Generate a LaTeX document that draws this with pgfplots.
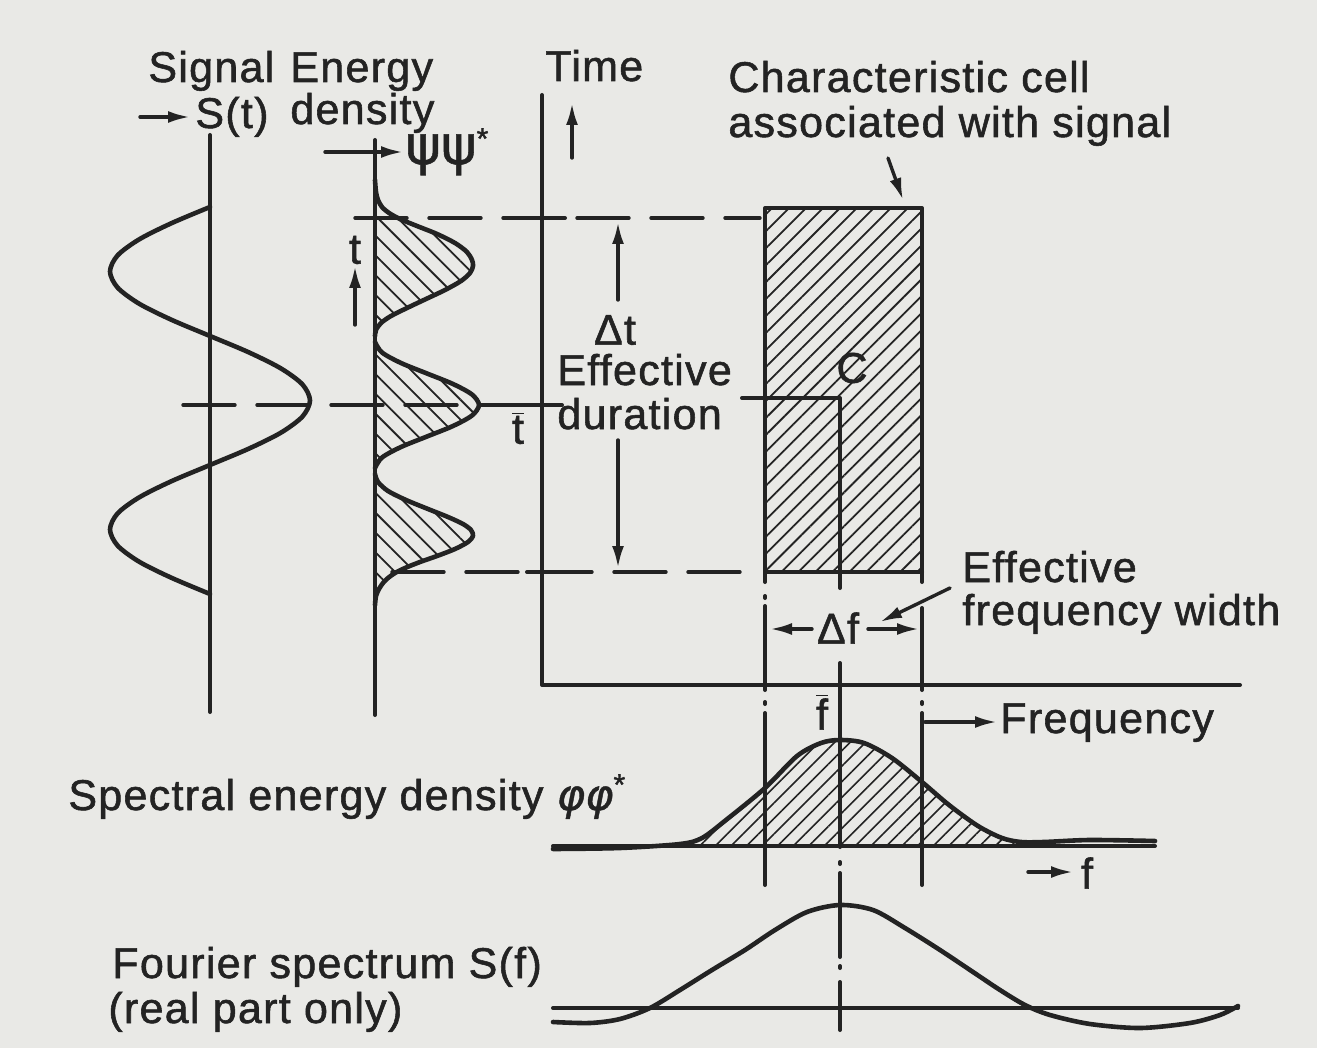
\documentclass[border=0pt]{standalone}
\usepackage{pgfplots}
\pgfplotsset{compat=1.18}
\usetikzlibrary{arrows.meta,patterns.meta}
\usepackage{fontspec}
\setmainfont{Liberation Sans}[FakeBold=1.3,LetterSpace=3]
\newfontfamily\dejavu{DejaVu Sans}[FakeBold=1]
\newfontfamily\dejavuo{DejaVu Sans Oblique}[FakeBold=1]
\definecolor{paper}{RGB}{233,233,230}
\definecolor{ink}{RGB}{35,35,35}
\newcommand\tf{\fontsize{21.5}{25}\selectfont}
\tikzset{
  L/.style={line width=2pt},
  C/.style={line width=2.3pt},
  D/.style={line width=1.7pt, dash pattern=on 26pt off 11pt},
  A/.style={line width=1.7pt, -{Latex[length=11pt,width=6pt]}},
  T/.style={anchor=base west, font=\tf, text=ink, inner sep=0pt},
  TC/.style={anchor=center, font=\tf, text=ink, inner sep=0pt},
}
\begin{document}
\begin{tikzpicture}
\begin{axis}[width=658.5pt,height=524pt,scale only axis,
  xmin=0,xmax=1317,ymin=0,ymax=1048,y dir=reverse,
  axis lines=none,clip=false,no markers,
  axis background/.style={fill=paper},
  every axis plot/.append style={ink, line cap=round, line join=round}]

% ---------- signal S(t) ----------
\addplot[L] coordinates {(210,135) (210,712)};
\addplot[C,smooth] coordinates {
(210,207.0) (171.7,223.1) (139.3,239.3) (117.6,255.4) (110,271.5) (117.6,287.6)
(139.3,303.8) (171.7,319.9) (210,336.0) (248.3,352.1) (280.7,368.3) (302.4,384.4)
(310,400.5) (302.4,416.6) (280.7,432.8) (248.3,448.9) (210,465.0) (171.7,481.1)
(139.3,497.3) (117.6,513.4) (110,529.5) (117.6,545.6) (139.3,561.8) (171.7,577.9) (210,594.0)};

% ---------- energy density ----------
\addplot[draw=none,smooth,pattern={Lines[angle=-45,distance=7pt,line width=0.9pt]},pattern color=ink] coordinates {
(375,180) (376,192) (378,200) (382,207) (389,213) (400,219) (417,226) (437,234) (455,243)
(467,252) (472,260) (473,266) (470,273) (461,281) (445,290) (426,299) (407,308) (391,316)
(381,323) (376,330) (375,336) (375,342) (382,352.5) (401,363) (427,373.5) (453,384)
(472,394.5) (479,405) (472,415.5) (453,426) (427,436.5) (401,447) (382,457.5) (375,468)
(375,474) (378,482) (388,491) (406,500) (428,509) (448,517) (463,524) (471,530) (473,536)
(468,542) (455,549) (437,556) (420,562) (405,568) (395,573) (388,578) (383,583) (379,589)
(376,596) (375,605)};
\addplot[L] coordinates {(375,140) (375,715)};
\addplot[C,smooth] coordinates {
(375,180) (376,192) (378,200) (382,207) (389,213) (400,219) (417,226) (437,234) (455,243)
(467,252) (472,260) (473,266) (470,273) (461,281) (445,290) (426,299) (407,308) (391,316)
(381,323) (376,330) (375,336)};
\addplot[C,smooth] coordinates {
(375,342) (382,352.5) (401,363) (427,373.5) (453,384)
(472,394.5) (479,405) (472,415.5) (453,426) (427,436.5) (401,447) (382,457.5) (375,468)};
\addplot[C,smooth] coordinates {
(375,474) (378,482) (388,491) (406,500) (428,509) (448,517) (463,524) (471,530) (473,536)
(468,542) (455,549) (437,556) (420,562) (405,568) (395,573) (388,578) (383,583) (379,589)
(376,596) (375,605)};

% ---------- time / frequency axes ----------
\addplot[L] coordinates {(542,95) (542,685) (1240,685)};

% ---------- dashed lines ----------
\addplot[D] coordinates {(355,218) (760,218)};
\addplot[D] coordinates {(183,405) (528,405)};
\addplot[D] coordinates {(392,572) (760,572)};
\addplot[L] coordinates {(527,218) (565,218)};
\addplot[L] coordinates {(527,405) (562,405)};
\addplot[L] coordinates {(527,572) (565,572)};
\addplot[L] coordinates {(192,405) (228,405)};

% ---------- characteristic cell ----------
\addplot[draw=none,pattern={Lines[angle=45,distance=6pt,line width=0.9pt]},pattern color=ink] coordinates {
(765,208) (922,208) (922,572) (765,572)};
\addplot[L] coordinates {(765,582) (765,208) (922,208) (922,582)};
\addplot[L] coordinates {(765,572) (922,572)};
\addplot[L] coordinates {(742,398) (840,398) (840,588)};

% vertical frequency lines (chain-dotted)
\addplot[L] coordinates {(765,596) (765,598)};
\addplot[L] coordinates {(765,606) (765,690)};
\addplot[L] coordinates {(765,702) (765,704)};
\addplot[L] coordinates {(765,713) (765,885)};
\addplot[L] coordinates {(922,608) (922,690)};
\addplot[L] coordinates {(922,702) (922,704)};
\addplot[L] coordinates {(922,713) (922,885)};
\addplot[L] coordinates {(840,663) (840,847)};
\addplot[L] coordinates {(840,862) (840,864)};
\addplot[L] coordinates {(840,873) (840,957)};
\addplot[L] coordinates {(840,966) (840,968)};
\addplot[L] coordinates {(840,982) (840,1030)};

% ---------- spectral energy density ----------
\addplot[draw=none,smooth,pattern={Lines[angle=45,distance=5.5pt,line width=0.8pt]},pattern color=ink] coordinates {
(680,846) (702,838) (726,820) (765,788) (797,756) (821,743) (840,740) (864,743) (892,758)
(922,782) (949,805) (978,826) (1002,838) (1021,846)};
\addplot[L] coordinates {(553,846) (1155,846)};
\addplot[C,smooth] coordinates {
(553,849) (620,848) (680,844) (702,838) (726,820) (765,788) (797,756) (821,743) (840,740)
(864,743) (892,758) (922,782) (949,805) (978,826) (1002,838) (1021,842) (1044,842)
(1090,840) (1155,841)};

% ---------- Fourier spectrum ----------
\addplot[L] coordinates {(553,1008) (1238,1008)};
\addplot[C,smooth] coordinates {
(553,1022) (590,1023) (620,1019) (650,1008) (680,990) (712,970) (745,950) (775,930)
(807,912) (840,905) (873,910) (905,928) (940,950) (973,972) (1000,990) (1025,1005)
(1050,1015) (1090,1024) (1140,1028) (1190,1023) (1220,1015) (1238,1006)};

% ---------- arrows ----------
\addplot[A] coordinates {(140,117) (190,117)};
\addplot[A] coordinates {(325,152) (403,152)};
\addplot[A] coordinates {(572,158) (572,103)};
\addplot[A] coordinates {(888,158) (903,200)};
\addplot[A] coordinates {(355,325) (355,266)};
\addplot[A] coordinates {(618,300) (618,222)};
\addplot[A] coordinates {(618,440) (618,568)};
\addplot[A] coordinates {(812,629) (770,629)};
\addplot[A] coordinates {(868,629) (919,629)};
\addplot[A] coordinates {(950,588) (880,622)};
\addplot[A] coordinates {(925,722) (997,722)};
\addplot[A] coordinates {(1028,872) (1073,872)};

% ---------- texts ----------
\node[T] at (axis cs:148,82) {Signal};
\node[T] at (axis cs:290,82) {Energy};
\node[T] at (axis cs:195,128) {S(t)};
\node[T] at (axis cs:290,124) {density};
\node[T] at (axis cs:405,164) {{\dejavu\fontsize{27}{30}\selectfont ψψ}\textsuperscript{*}};
\node[T] at (axis cs:545,81) {Time};
\node[T] at (axis cs:728,92) {Characteristic cell};
\node[T] at (axis cs:728,137) {associated with signal};
\node[TC] at (axis cs:355,250) {t};
\node[TC] at (axis cs:615,330) {Δt};
\node[T] at (axis cs:557,385) {Effective};
\node[T] at (axis cs:557,429) {duration};
\node[TC] at (axis cs:518,428) {$\overline{\mbox{t}}$};
\node[TC] at (axis cs:852,368) {C};
\node[T] at (axis cs:962,582) {Effective};
\node[T] at (axis cs:962,625) {frequency width};
\node[TC] at (axis cs:838,628) {Δf};
\node[TC] at (axis cs:822,712) {$\overline{\mbox{f}}$};
\node[T] at (axis cs:1000,733) {Frequency};
\node[T] at (axis cs:68,810) {Spectral energy density {\dejavuo φφ}\textsuperscript{*}};
\node[TC] at (axis cs:1087,873) {f};
\node[T] at (axis cs:112,978) {Fourier spectrum S(f)};
\node[T] at (axis cs:108,1023) {(real part only)};
\end{axis}
\end{tikzpicture}
\end{document}
